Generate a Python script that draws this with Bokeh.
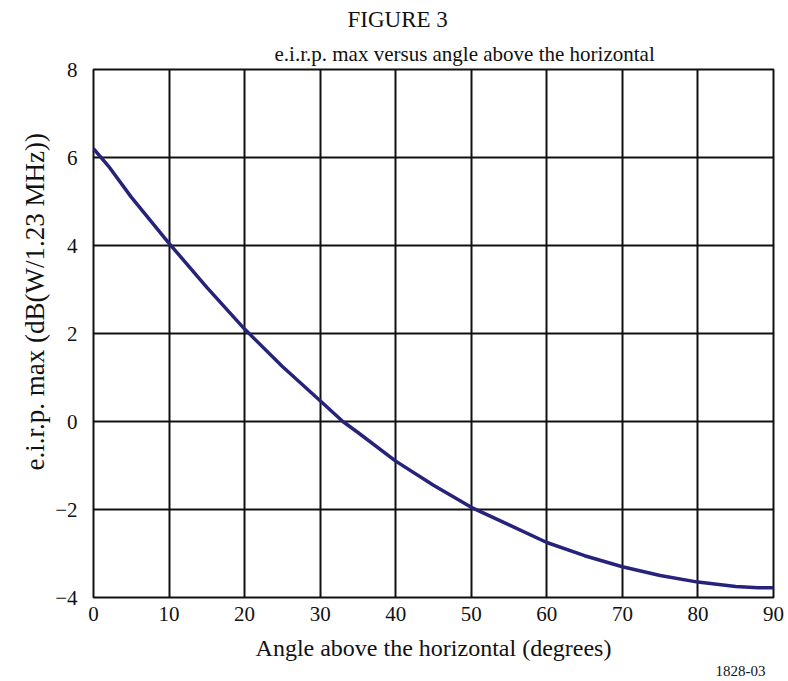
from bokeh.plotting import figure
from bokeh.models import FixedTicker, Title
from bokeh.embed import file_html
from bokeh.resources import INLINE

angle_deg = [0, 2, 5, 10, 15, 20, 25, 30, 33, 35, 40, 45, 50, 55, 60, 65, 70, 75, 80, 85, 88, 90]
eirp_db = [6.2, 5.8, 5.1, 4.05, 3.05, 2.1, 1.25, 0.47, 0.0, -0.25, -0.9, -1.45, -1.95, -2.35,
           -2.75, -3.05, -3.3, -3.5, -3.65, -3.75, -3.78, -3.78]

x_ticks = [0, 10, 20, 30, 40, 50, 60, 70, 80, 90]
y_ticks = [-4, -2, 0, 2, 4, 6, 8]
y_tick_labels = {-4: "\u22124", -2: "\u22122", 0: "0", 2: "2", 4: "4", 6: "6", 8: "8"}

FONT = "Liberation Serif"
INK = "#111111"

p = figure(width=788, height=681, x_range=(0, 90), y_range=(-4, 8),
           output_backend="svg", toolbar_location=None,
           min_border_left=93, min_border_right=15, min_border_top=68, min_border_bottom=84)
p.background_fill_color = "white"
p.border_fill_color = "white"
p.outline_line_color = INK
p.outline_line_width = 2

p.title = Title(text="FIGURE 3", align="left", offset=254,
                text_font=FONT, text_font_size="23px", text_font_style="normal",
                text_color=INK, standoff=9)
p.add_layout(Title(text="e.i.r.p. max versus angle above the horizontal", align="left", offset=181,
                   text_font=FONT, text_font_size="21px", text_font_style="normal",
                   text_color=INK, standoff=7), "above")
p.add_layout(Title(text="1828-03", align="right", offset=8,
                   text_font=FONT, text_font_size="15px", text_font_style="normal",
                   text_color=INK, standoff=0), "below")
p.add_layout(Title(text="e.i.r.p. max (dB(W/1.23 MHz))", align="left", offset=127,
                   text_font=FONT, text_font_size="27px", text_font_style="normal",
                   text_color=INK, standoff=6), "left")

p.xaxis.ticker = FixedTicker(ticks=x_ticks)
p.yaxis.ticker = FixedTicker(ticks=y_ticks)
p.yaxis.major_label_overrides = y_tick_labels
for ax in (p.xaxis, p.yaxis):
    ax.axis_line_color = None
    ax.major_tick_line_color = None
    ax.minor_tick_line_color = None
    ax.major_label_text_font = FONT
    ax.major_label_text_font_size = "21px"
    ax.major_label_text_color = INK
    ax.axis_label_text_font = FONT
    ax.axis_label_text_font_style = "normal"
    ax.axis_label_text_color = INK
p.xaxis.axis_label_text_font_size = "24px"
p.xaxis.major_label_standoff = 3
p.yaxis.major_label_standoff = 10
p.xaxis.axis_label = "Angle above the horizontal (degrees)"
p.xaxis.axis_label_standoff = 11

p.xgrid.ticker = FixedTicker(ticks=x_ticks)
p.ygrid.ticker = FixedTicker(ticks=y_ticks)
p.grid.grid_line_color = INK
p.grid.grid_line_width = 2
p.grid.grid_line_alpha = 1

p.line(angle_deg, eirp_db, line_color="#27237a", line_width=3.5)

open("out.html", "w").write(file_html(p, INLINE))
